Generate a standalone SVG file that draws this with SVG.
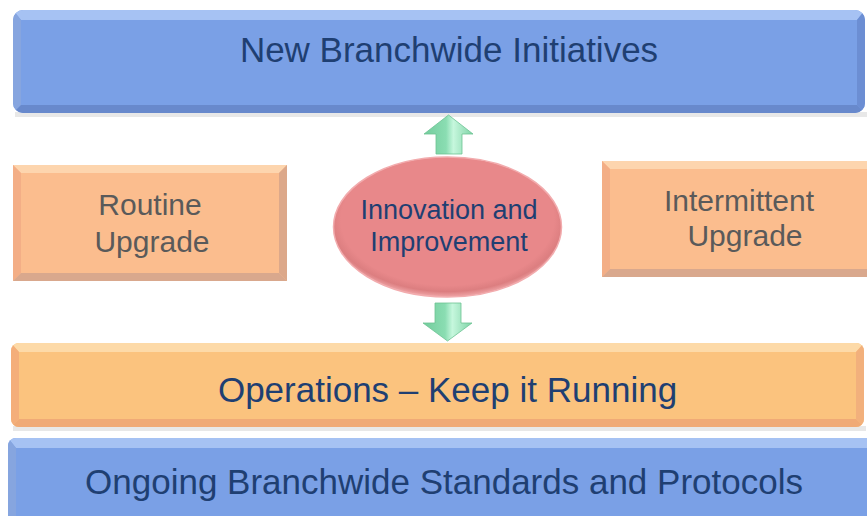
<svg xmlns="http://www.w3.org/2000/svg" width="867" height="516" viewBox="0 0 867 516">
<defs>
<style>
.bar{font-family:"Liberation Sans",Arial,sans-serif;font-size:35px;fill:#1F3F72;text-anchor:middle}
.box{font-family:"Liberation Sans",Arial,sans-serif;font-size:30px;fill:#5A5A5A;text-anchor:middle}
.ell{font-family:"Liberation Sans",Arial,sans-serif;font-size:27px;fill:#1F3F72;text-anchor:middle}
.shadow{fill:#D8D8D8;opacity:0.6}
</style>
<radialGradient id="ellG" cx="0.5" cy="0.45" r="0.55">
<stop offset="0.85" stop-color="#E8888A"/>
<stop offset="0.93" stop-color="#DC7E80"/>
<stop offset="1" stop-color="#F0A6A8"/>
</radialGradient>
<linearGradient id="arrG" x1="0" y1="0" x2="1" y2="0">
<stop offset="0" stop-color="#73CC9C"/>
<stop offset="0.45" stop-color="#8ADDB2"/>
<stop offset="0.6" stop-color="#C6F7DD"/>
<stop offset="1" stop-color="#7ED3A6"/>
</linearGradient>
<clipPath id="cTop"><rect x="13" y="10" width="852" height="103" rx="10"/></clipPath>
<clipPath id="cOps"><rect x="11" y="343" width="853" height="84" rx="8"/></clipPath>
<clipPath id="cBot"><rect x="8" y="438" width="870" height="90" rx="8"/></clipPath>
</defs>
<rect width="867" height="516" fill="#FFFFFF"/>

<g id="new-initiatives">
<rect class="shadow" x="15" y="112" width="852" height="5"/>
<g clip-path="url(#cTop)">
<rect x="13" y="10" width="852" height="103" fill="#7AA0E6"/>
<polygon points="13,10 865,10 857,20 21,20" fill="#A6C2F3"/>
<polygon points="13,10 21,20 21,105 13,113" fill="#86A5DF"/>
<polygon points="865,10 865,113 857,105 857,20" fill="#6C8ED3"/>
<polygon points="13,113 21,105 857,105 865,113" fill="#6889CC"/>
</g>
<text class="bar" x="449" y="62">New Branchwide Initiatives</text>
</g>

<g id="routine-upgrade">
<rect x="13" y="165" width="274" height="116" fill="#FBBD8E"/>
<polygon points="13,165 287,165 279,173 21,173" fill="#FDD5AE"/>
<polygon points="13,165 21,173 21,273 13,281" fill="#F3AE86"/>
<polygon points="287,165 287,281 279,273 279,173" fill="#DCA88A"/>
<polygon points="13,281 21,273 279,273 287,281" fill="#D9A88D"/>
<text class="box" x="150" y="215">Routine</text>
<text class="box" x="152" y="252">Upgrade</text>
</g>

<g id="intermittent-upgrade">
<rect x="602" y="161" width="275" height="116" fill="#FBBD8E"/>
<polygon points="602,161 877,161 869,169 610,169" fill="#FDD5AE"/>
<polygon points="602,161 610,169 610,269 602,277" fill="#F3AE86"/>
<polygon points="602,277 610,269 869,269 877,277" fill="#D9A88D"/>
<text class="box" x="739" y="211">Intermittent</text>
<text class="box" x="745" y="246">Upgrade</text>
</g>

<g id="innovation">
<ellipse cx="447.5" cy="227" rx="114" ry="70" fill="url(#ellG)"/>
<ellipse cx="447.5" cy="227" rx="114" ry="70" fill="none" stroke="#F2ACAE" stroke-width="1.5"/>
<text class="ell" x="449" y="219">Innovation and</text>
<text class="ell" x="449" y="251">Improvement</text>
</g>

<g id="operations">
<rect class="shadow" x="13" y="426" width="853" height="5"/>
<g clip-path="url(#cOps)">
<rect x="11" y="343" width="853" height="84" fill="#FBC37E"/>
<polygon points="11,343 864,343 856,352 19,352" fill="#FDDAA8"/>
<polygon points="11,343 19,352 19,419 11,427" fill="#F4AE7A"/>
<polygon points="864,343 864,427 856,419 856,352" fill="#F2B07C"/>
<polygon points="11,427 19,419 856,419 864,427" fill="#F0AA76"/>
</g>
<text class="bar" x="447.5" y="402">Operations – Keep it Running</text>
</g>

<g id="ongoing-standards">
<g clip-path="url(#cBot)">
<rect x="8" y="438" width="870" height="90" fill="#7AA0E6"/>
<polygon points="8,438 878,438 870,448 16,448" fill="#A6C2F3"/>
<polygon points="8,438 16,448 16,528 8,528" fill="#86A5DF"/>
</g>
<text class="bar" x="444" y="494">Ongoing Branchwide Standards and Protocols</text>
</g>

<g id="connectors">
<g id="arrow-up">
<polygon points="448.5,115 473,134 462,134 462,154 436,154 436,134 424,134" fill="url(#arrG)"/>
<polygon points="448.5,115 473,134 462,134 462,154 436,154 436,134 424,134" fill="none" stroke="#6CC393" stroke-width="0.8"/>
</g>
<g id="arrow-down">
<polygon points="435,303 461,303 461,323 472,323 447.5,341 423,323 435,323" fill="url(#arrG)"/>
<polygon points="435,303 461,303 461,323 472,323 447.5,341 423,323 435,323" fill="none" stroke="#6CC393" stroke-width="0.8"/>
</g>
</g>
</svg>
